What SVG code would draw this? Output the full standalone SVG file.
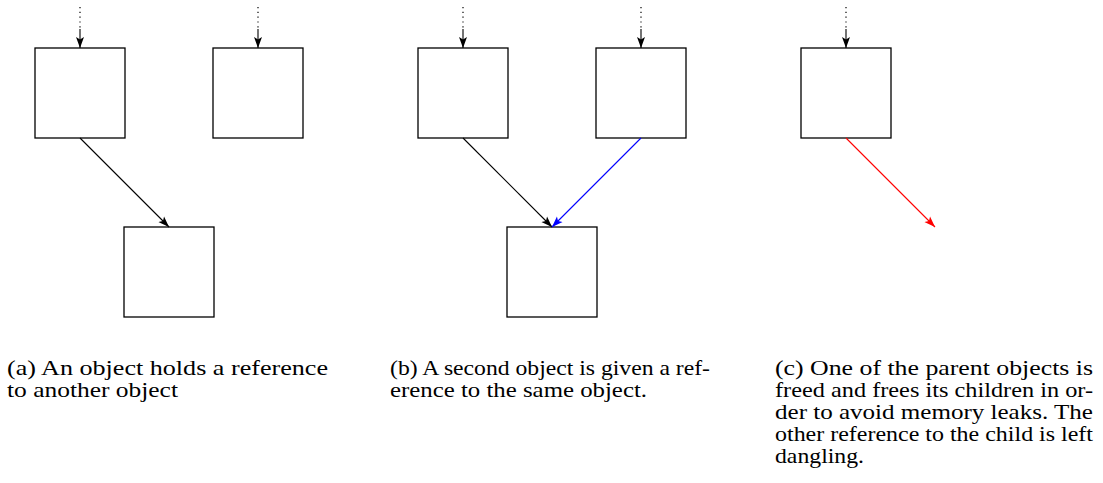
<svg xmlns="http://www.w3.org/2000/svg" width="1103" height="483" viewBox="0 0 1103 483">
<style>
.box{fill:#fff;stroke:#000;stroke-width:1.3}
.dot{stroke:#000;stroke-width:1.2;stroke-dasharray:1.2 3.6;fill:none}
.ln{stroke:#000;stroke-width:1.1;fill:none}
</style>
<defs>
<marker id="ak" markerUnits="userSpaceOnUse" markerWidth="12" markerHeight="10" viewBox="0 0 12 10" refX="11" refY="5" orient="auto"><path d="M0,1 L11,5 L0,9 L2.5,5 z" fill="#000"/></marker>
<marker id="ab" markerUnits="userSpaceOnUse" markerWidth="12" markerHeight="10" viewBox="0 0 12 10" refX="11" refY="5" orient="auto"><path d="M0,1 L11,5 L0,9 L2.5,5 z" fill="#00f"/></marker>
<marker id="ar" markerUnits="userSpaceOnUse" markerWidth="12" markerHeight="10" viewBox="0 0 12 10" refX="11" refY="5" orient="auto"><path d="M0,1 L11,5 L0,9 L2.5,5 z" fill="#f00"/></marker>
</defs>

<g id="a-parent1"><rect class="box" x="35" y="48" width="90" height="90"/></g>
<g id="a-parent2"><rect class="box" x="213" y="48" width="90" height="90"/></g>
<g id="a-child"><rect class="box" x="124" y="227" width="90" height="90"/></g>

<g id="b-parent1"><rect class="box" x="418" y="48" width="90" height="90"/></g>
<g id="b-parent2"><rect class="box" x="596" y="48" width="90" height="90"/></g>
<g id="b-child"><rect class="box" x="507" y="227" width="90" height="90"/></g>

<g id="c-parent"><rect class="box" x="801" y="48" width="90" height="90"/></g>

<g id="connectors">
<line class="dot" x1="80" y1="7" x2="80" y2="28"/><line class="ln" x1="80" y1="29" x2="80" y2="48" marker-end="url(#ak)"/>
<line class="dot" x1="258" y1="7" x2="258" y2="28"/><line class="ln" x1="258" y1="29" x2="258" y2="48" marker-end="url(#ak)"/>
<line class="ln" x1="80" y1="138" x2="169" y2="227" marker-end="url(#ak)"/>

<line class="dot" x1="463" y1="7" x2="463" y2="28"/><line class="ln" x1="463" y1="29" x2="463" y2="48" marker-end="url(#ak)"/>
<line class="dot" x1="641" y1="7" x2="641" y2="28"/><line class="ln" x1="641" y1="29" x2="641" y2="48" marker-end="url(#ak)"/>
<line class="ln" x1="463" y1="138" x2="552" y2="227" marker-end="url(#ak)"/>
<line class="ln" x1="641" y1="138" x2="552" y2="227" style="stroke:#00f" marker-end="url(#ab)"/>

<line class="dot" x1="846" y1="7" x2="846" y2="28"/><line class="ln" x1="846" y1="29" x2="846" y2="48" marker-end="url(#ak)"/>
<line class="ln" x1="846" y1="138" x2="935" y2="227" style="stroke:#f00" marker-end="url(#ar)"/>
</g>

<g id="captions" font-family="'Liberation Serif', 'DejaVu Serif', serif" font-size="21" fill="#000">
<text x="7" y="375" textLength="321" lengthAdjust="spacingAndGlyphs">(a) An object holds a reference</text>
<text x="7" y="397" textLength="171" lengthAdjust="spacingAndGlyphs">to another object</text>

<text x="390" y="375" textLength="320" lengthAdjust="spacingAndGlyphs">(b) A second object is given a ref-</text>
<text x="390" y="397" textLength="257" lengthAdjust="spacingAndGlyphs">erence to the same object.</text>

<text x="775" y="375" textLength="318" lengthAdjust="spacingAndGlyphs">(c) One of the parent objects is</text>
<text x="775" y="397" textLength="318" lengthAdjust="spacingAndGlyphs">freed and frees its children in or-</text>
<text x="775" y="419" textLength="318" lengthAdjust="spacingAndGlyphs">der to avoid memory leaks. The</text>
<text x="775" y="441" textLength="318" lengthAdjust="spacingAndGlyphs">other reference to the child is left</text>
<text x="775" y="463" textLength="89" lengthAdjust="spacingAndGlyphs">dangling.</text>
</g>
</svg>
